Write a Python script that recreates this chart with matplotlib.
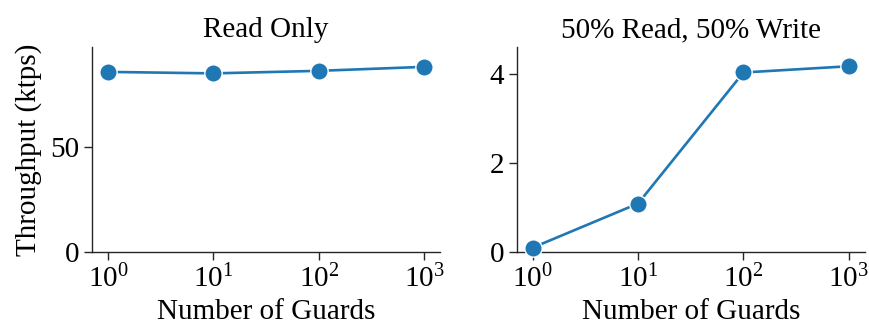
import matplotlib
matplotlib.use("Agg")
import matplotlib.pyplot as plt
from matplotlib.ticker import LogFormatterMathtext, NullLocator

plt.rcParams["font.family"] = ["Liberation Serif", "DejaVu Serif"]
plt.rcParams["mathtext.fontset"] = "custom"
plt.rcParams["mathtext.rm"] = "Liberation Serif"
plt.rcParams["mathtext.it"] = "Liberation Serif:italic"

guards = [1, 10, 100, 1000]
read_only = [85.7, 85.0, 86.2, 88.1]
read_write = [0.10, 1.09, 4.03, 4.17]

titles = ["Read Only", "50% Read, 50% Write"]
series = [read_only, read_write]
y_limits = [(0, 97.5), (0, 4.6)]
y_ticks = [[0, 50], [0, 2, 4]]

FS = 21

fig, axes = plt.subplots(1, 2, figsize=(8.69, 3.27), dpi=100)
fig.subplots_adjust(left=0.106, right=0.995, bottom=0.229, top=0.856, wspace=0.221)

for axis, title, values, ylim, yticks in zip(axes, titles, series, y_limits, y_ticks):
    axis.plot(guards, values, color="#1f77b4", linewidth=1.9, marker="o",
              markersize=12.5, markeredgecolor="white", markeredgewidth=1.0, zorder=3,
              clip_on=False)
    axis.set_xscale("log")
    axis.set_xlim(10 ** -0.15, 10 ** 3.15)
    axis.set_xticks(guards)
    axis.xaxis.set_major_formatter(LogFormatterMathtext())
    axis.xaxis.set_minor_locator(NullLocator())
    axis.set_ylim(*ylim)
    axis.set_yticks(yticks)
    axis.set_title(title, fontsize=FS, pad=7)
    axis.set_xlabel("Number of Guards", fontsize=FS, labelpad=4)
    axis.tick_params(labelsize=FS, length=5.5, width=1.0, color="#262626", labelcolor="black")
    for side in ["top", "right"]:
        axis.spines[side].set_visible(False)
    for side in ["left", "bottom"]:
        axis.spines[side].set_color("#262626")
        axis.spines[side].set_linewidth(1.0)

axes[0].set_ylabel("Throughput (ktps)", fontsize=FS, labelpad=6)

fig.savefig("out.png", dpi=100)
